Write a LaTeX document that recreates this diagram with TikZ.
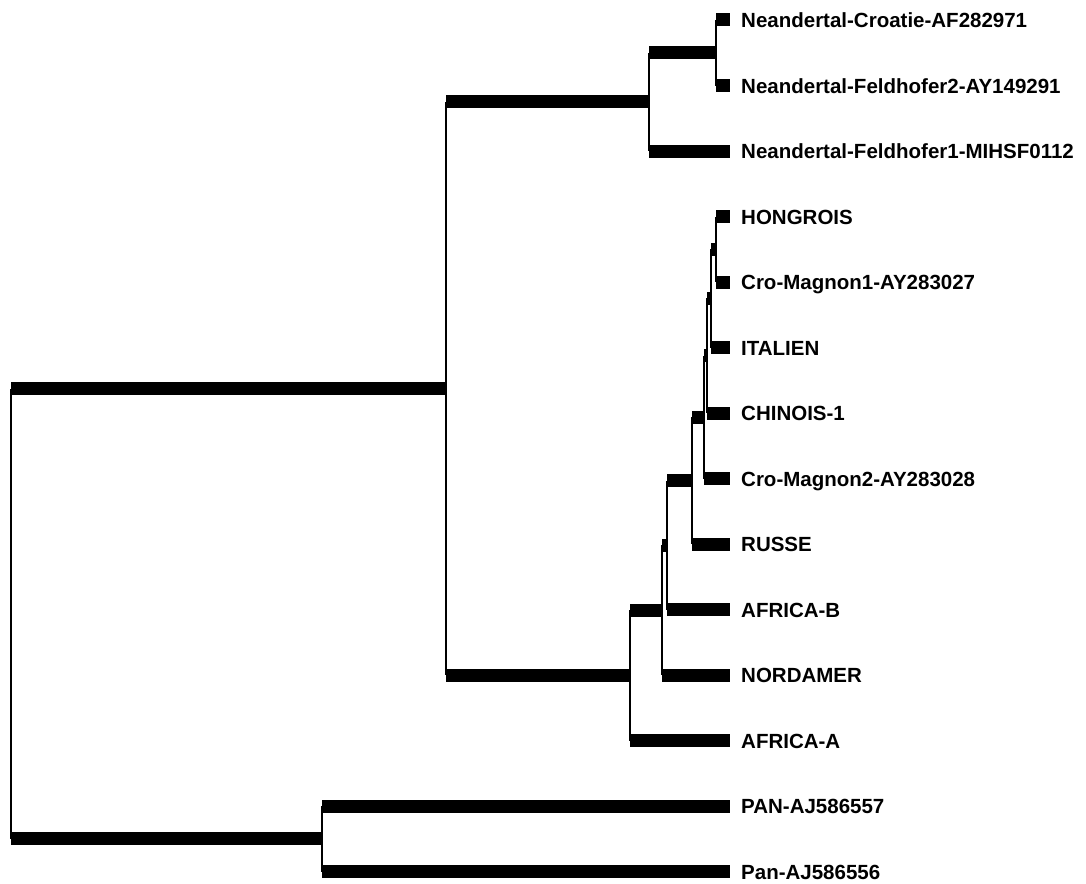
\documentclass[tikz,border=0pt]{standalone}
\usepackage{fontspec}
\setmainfont{Liberation Sans}
\begin{document}
\begin{tikzpicture}[x=1pt,y=-1pt,
  bar/.style={line width=13pt},
  vline/.style={line width=2.2pt},
  lab/.style={anchor=base west, inner sep=0pt, font=\fontsize{20.5}{20.5}\selectfont\bfseries}]
\useasboundingbox (0,0) rectangle (1086,883);
% leaves
\coordinate (l0) at (730,20);
\coordinate (l1) at (730,85.5);
\coordinate (l2) at (730,151);
\coordinate (l3) at (730,216.5);
\coordinate (l4) at (730,282);
\coordinate (l5) at (730,347.5);
\coordinate (l6) at (730,413);
\coordinate (l7) at (730,478.5);
\coordinate (l8) at (730,544);
\coordinate (l9) at (730,609.5);
\coordinate (l10) at (730,675);
\coordinate (l11) at (730,740.5);
\coordinate (l12) at (730,806);
\coordinate (l13) at (730,871.5);
% internal nodes
\coordinate (N2) at (716,52.75);
\coordinate (N) at (649,101.9);
\coordinate (F) at (716,249.25);
\coordinate (G) at (711,298.4);
\coordinate (H) at (707,355.7);
\coordinate (D) at (704,417.1);
\coordinate (C) at (692,480.5);
\coordinate (B) at (667,545);
\coordinate (A) at (662,610);
\coordinate (M) at (630,675.3);
\coordinate (HO) at (446,388.6);
\coordinate (P) at (322,838.75);
\coordinate (R) at (11,613.7);
% branches
\foreach \p/\c in {R/HO,R/P,HO/N,HO/M,N/N2,N/l2,N2/l0,N2/l1,M/A,M/l11,A/B,A/l10,B/C,B/l9,C/D,C/l8,D/H,D/l7,H/G,H/l6,G/F,G/l5,F/l3,F/l4,P/l12,P/l13}
  \draw[bar] (\c -| \p) -- (\c);
\foreach \p/\a/\b in {R/HO/P,HO/N/M,N/N2/l2,N2/l0/l1,M/A/l11,A/B/l10,B/C/l9,C/D/l8,D/H/l7,H/G/l6,G/F/l5,F/l3/l4,P/l12/l13}
  \draw[vline] (\a -| \p) -- (\b -| \p);
% labels
\node[lab] (t0) at ([xshift=11pt,yshift=-7.5pt]l0) {Neandertal-Croatie-AF282971};
\node[lab] (t1) at ([xshift=11pt,yshift=-7.5pt]l1) {Neandertal-Feldhofer2-AY149291};
\node[lab] (t2) at ([xshift=11pt,yshift=-7.5pt]l2) {Neandertal-Feldhofer1-MIHSF0112};
\node[lab] (t3) at ([xshift=11pt,yshift=-7.5pt]l3) {HONGROIS};
\node[lab] (t4) at ([xshift=11pt,yshift=-7.5pt]l4) {Cro-Magnon1-AY283027};
\node[lab] (t5) at ([xshift=11pt,yshift=-7.5pt]l5) {ITALIEN};
\node[lab] (t6) at ([xshift=11pt,yshift=-7.5pt]l6) {CHINOIS-1};
\node[lab] (t7) at ([xshift=11pt,yshift=-7.5pt]l7) {Cro-Magnon2-AY283028};
\node[lab] (t8) at ([xshift=11pt,yshift=-7.5pt]l8) {RUSSE};
\node[lab] (t9) at ([xshift=11pt,yshift=-7.5pt]l9) {AFRICA-B};
\node[lab] (t10) at ([xshift=11pt,yshift=-7.5pt]l10) {NORDAMER};
\node[lab] (t11) at ([xshift=11pt,yshift=-7.5pt]l11) {AFRICA-A};
\node[lab] (t12) at ([xshift=11pt,yshift=-7.5pt]l12) {PAN-AJ586557};
\node[lab] (t13) at ([xshift=11pt,yshift=-7.5pt]l13) {Pan-AJ586556};
\end{tikzpicture}
\end{document}
